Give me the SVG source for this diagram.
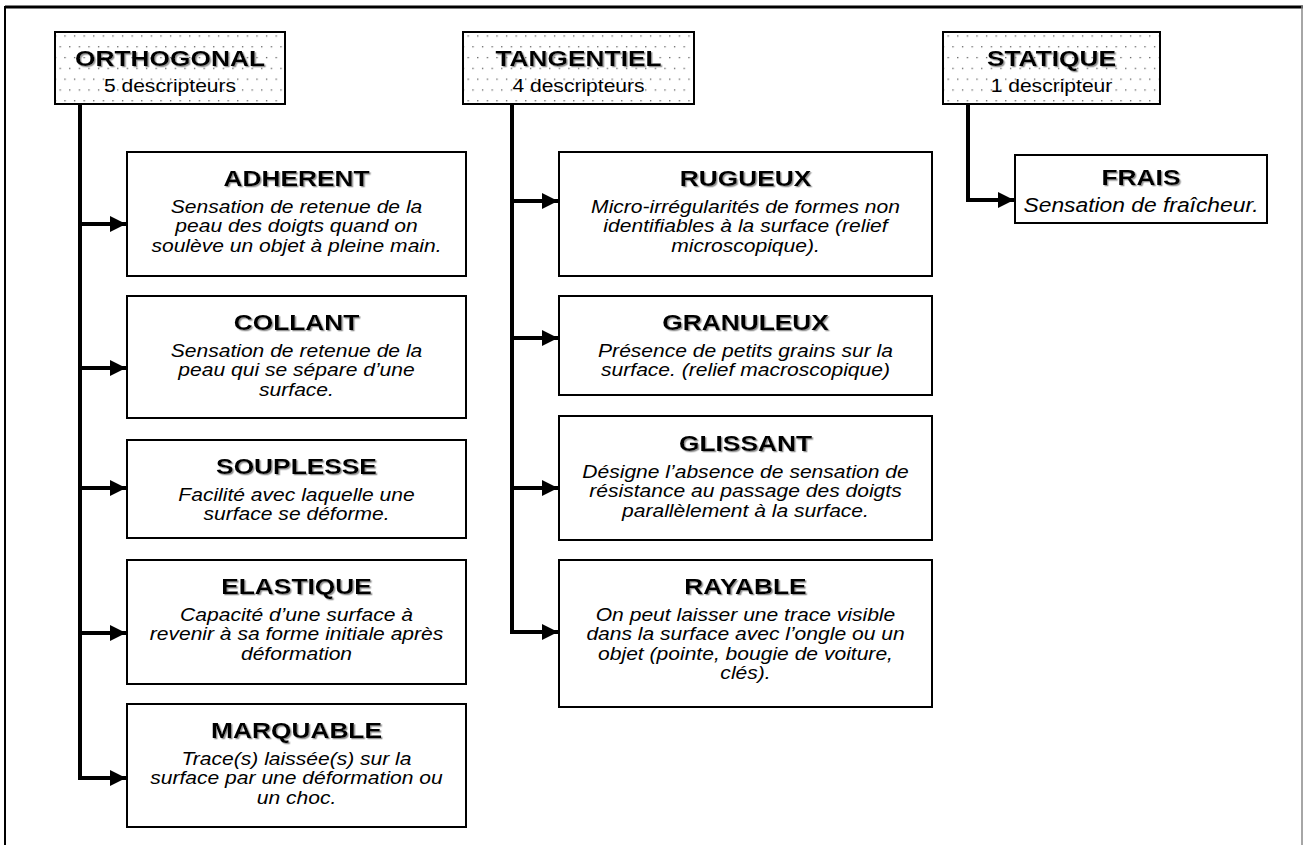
<svg xmlns="http://www.w3.org/2000/svg" width="1304" height="845" viewBox="0 0 1304 845">
<defs>
<pattern id="dots" width="9.6" height="21.6" patternUnits="userSpaceOnUse">
<rect x="2" y="3" width="1.2" height="1.2" fill="#444"/>
<rect x="6.8" y="13.8" width="1.2" height="1.2" fill="#444"/>
</pattern>
<filter id="sh" x="-5%" y="-20%" width="115%" height="150%">
<feDropShadow dx="1.2" dy="1.3" stdDeviation="0.3" flood-color="#888" flood-opacity="0.9"/>
</filter>
<marker id="ah" viewBox="0 0 10 10" refX="10" refY="5" markerWidth="4" markerHeight="4" markerUnits="strokeWidth" orient="auto">
<path d="M0,0 L10,5 L0,10 Z" fill="#000"/>
</marker>
</defs>
<style>
.box{fill:#fff;stroke:#000;stroke-width:2}
.hbox{fill:url(#dots);stroke:#000;stroke-width:2}
.hbg{fill:#fff}
.t{font-family:"Liberation Sans",Arial,sans-serif;font-weight:bold;font-size:22.5px;text-anchor:middle;fill:#000;filter:url(#sh)}
.hs{font-family:"Liberation Sans",Arial,sans-serif;font-size:18px;text-anchor:middle;fill:#000}
.d{font-family:"Liberation Sans",Arial,sans-serif;font-style:italic;font-size:18px;text-anchor:middle;fill:#000}
.stem{fill:none;stroke:#000;stroke-width:4}
.arr{fill:none;stroke:#000;stroke-width:4;marker-end:url(#ah)}
</style>
<rect width="1304" height="845" fill="#fff"/>
<g id="frame">
<line x1="5" y1="7" x2="1303" y2="7" stroke="#000" stroke-width="3"/>
<line x1="5" y1="6" x2="5" y2="845" stroke="#000" stroke-width="2"/>
<line x1="1302" y1="6" x2="1302" y2="845" stroke="#888" stroke-width="1.5"/>
</g>
<g id="connectors">
<path class="stem" d="M80,104 V780"/>
<path class="arr" d="M78,224 H126"/>
<path class="arr" d="M78,368 H126"/>
<path class="arr" d="M78,488 H126"/>
<path class="arr" d="M78,633 H126"/>
<path class="arr" d="M78,778 H126"/>
<path class="stem" d="M512,104 V634"/>
<path class="arr" d="M510,201 H558"/>
<path class="arr" d="M510,338 H558"/>
<path class="arr" d="M510,488 H558"/>
<path class="arr" d="M510,632 H558"/>
<path class="stem" d="M968,104 V202"/>
<path class="arr" d="M966,200 H1014"/>
</g>
<g id="orthogonal">
<rect class="hbg" x="55" y="32" width="230" height="72"/>
<rect class="hbox" x="55" y="32" width="230" height="72"/>
<g transform="translate(170 0) scale(1.17 1)">
<text class="t" x="0" y="66">ORTHOGONAL</text>
<text class="hs" x="0" y="92">5 descripteurs</text>
</g>
</g>
<g id="tangentiel">
<rect class="hbg" x="463" y="32" width="231" height="72"/>
<rect class="hbox" x="463" y="32" width="231" height="72"/>
<g transform="translate(578.5 0) scale(1.17 1)">
<text class="t" x="0" y="66">TANGENTIEL</text>
<text class="hs" x="0" y="92">4 descripteurs</text>
</g>
</g>
<g id="statique">
<rect class="hbg" x="943" y="32" width="217" height="72"/>
<rect class="hbox" x="943" y="32" width="217" height="72"/>
<g transform="translate(1051.5 0) scale(1.17 1)">
<text class="t" x="0" y="66">STATIQUE</text>
<text class="hs" x="0" y="92">1 descripteur</text>
</g>
</g>
<g id="adherent">
<rect class="box" x="127" y="152" width="339" height="124"/>
<g transform="translate(296.5 0) scale(1.17 1)">
<text class="t" x="0" y="186">ADHERENT</text>
<text class="d" x="0" y="213">Sensation de retenue de la</text>
<text class="d" x="0" y="232.5">peau des doigts quand on</text>
<text class="d" x="0" y="252">soulève un objet à pleine main.</text>
</g>
</g>
<g id="collant">
<rect class="box" x="127" y="296" width="339" height="122"/>
<g transform="translate(296.5 0) scale(1.17 1)">
<text class="t" x="0" y="330">COLLANT</text>
<text class="d" x="0" y="357">Sensation de retenue de la</text>
<text class="d" x="0" y="376.5">peau qui se sépare d’une</text>
<text class="d" x="0" y="396">surface.</text>
</g>
</g>
<g id="souplesse">
<rect class="box" x="127" y="440" width="339" height="98"/>
<g transform="translate(296.5 0) scale(1.17 1)">
<text class="t" x="0" y="474">SOUPLESSE</text>
<text class="d" x="0" y="501">Facilité avec laquelle une</text>
<text class="d" x="0" y="520.5">surface se déforme.</text>
</g>
</g>
<g id="elastique">
<rect class="box" x="127" y="560" width="339" height="124"/>
<g transform="translate(296.5 0) scale(1.17 1)">
<text class="t" x="0" y="594">ELASTIQUE</text>
<text class="d" x="0" y="621">Capacité d’une surface à</text>
<text class="d" x="0" y="640.5">revenir à sa forme initiale après</text>
<text class="d" x="0" y="660">déformation</text>
</g>
</g>
<g id="marquable">
<rect class="box" x="127" y="704" width="339" height="123"/>
<g transform="translate(296.5 0) scale(1.17 1)">
<text class="t" x="0" y="738">MARQUABLE</text>
<text class="d" x="0" y="765">Trace(s) laissée(s) sur la</text>
<text class="d" x="0" y="784.5">surface par une déformation ou</text>
<text class="d" x="0" y="804">un choc.</text>
</g>
</g>
<g id="rugueux">
<rect class="box" x="559" y="152" width="373" height="124"/>
<g transform="translate(745.5 0) scale(1.17 1)">
<text class="t" x="0" y="186">RUGUEUX</text>
<text class="d" x="0" y="213">Micro-irrégularités de formes non</text>
<text class="d" x="0" y="232.5">identifiables à la surface (relief</text>
<text class="d" x="0" y="252">microscopique).</text>
</g>
</g>
<g id="granuleux">
<rect class="box" x="559" y="296" width="373" height="99"/>
<g transform="translate(745.5 0) scale(1.17 1)">
<text class="t" x="0" y="330">GRANULEUX</text>
<text class="d" x="0" y="357">Présence de petits grains sur la</text>
<text class="d" x="0" y="376.5">surface. (relief macroscopique)</text>
</g>
</g>
<g id="glissant">
<rect class="box" x="559" y="416" width="373" height="124"/>
<g transform="translate(745.5 0) scale(1.17 1)">
<text class="t" x="0" y="451">GLISSANT</text>
<text class="d" x="0" y="478">Désigne l’absence de sensation de</text>
<text class="d" x="0" y="497.5">résistance au passage des doigts</text>
<text class="d" x="0" y="517">parallèlement à la surface.</text>
</g>
</g>
<g id="rayable">
<rect class="box" x="559" y="560" width="373" height="147"/>
<g transform="translate(745.5 0) scale(1.17 1)">
<text class="t" x="0" y="594">RAYABLE</text>
<text class="d" x="0" y="621">On peut laisser une trace visible</text>
<text class="d" x="0" y="640.5">dans la surface avec l’ongle ou un</text>
<text class="d" x="0" y="660">objet (pointe, bougie de voiture,</text>
<text class="d" x="0" y="679.5">clés).</text>
</g>
</g>
<g id="frais">
<rect class="box" x="1015" y="155" width="252" height="68"/>
<g transform="translate(1141 0) scale(1.17 1)">
<text class="t" x="0" y="185">FRAIS</text>
<text class="d" x="0" y="212" style="font-size:19.5px">Sensation de fraîcheur.</text>
</g>
</g>
</svg>
